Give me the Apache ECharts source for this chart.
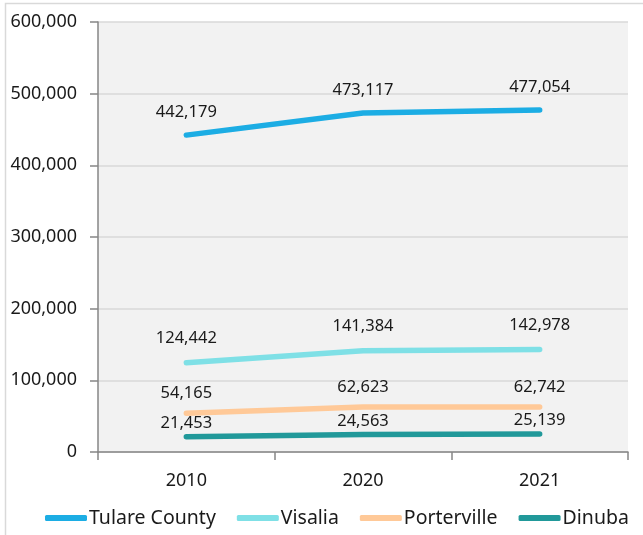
<!DOCTYPE html>
<html>
<head>
<meta charset="utf-8">
<script src="https://cdn.jsdelivr.net/npm/echarts@6/dist/echarts.min.js"></script>
<style>
html,body{margin:0;padding:0;background:#fff;}
#chart{width:643px;height:535px;}
</style>
</head>
<body>
<div id="chart"></div>
<script>
var categories = ['2010', '2020', '2021'];
var tulareCounty = [442179, 473117, 477054];
var visalia = [124442, 141384, 142978];
var porterville = [54165, 62623, 62742];
var dinuba = [21453, 24563, 25139];
var seriesNames = ['Tulare County', 'Visalia', 'Porterville', 'Dinuba'];
var yMin = 0, yMax = 600000, yStep = 100000;

var FONT = '"Noto Sans", sans-serif';
function fmt(v) { return v.toString().replace(/\B(?=(\d{3})+(?!\d))/g, ','); }

function mk(name, data, color, dist) {
  return {
    name: name,
    type: 'line',
    data: data,
    smooth: false,
    symbol: 'circle',
    symbolSize: 2,
    showSymbol: true,
    itemStyle: { color: color },
    lineStyle: { color: color, width: 5.5, cap: 'round', join: 'round' },
    label: {
      show: true,
      position: 'top',
      distance: dist,
      color: '#1a1a1a',
      fontFamily: FONT,
      fontSize: 16.5,
      formatter: function (p) { return fmt(p.value); }
    },
    emphasis: { disabled: true },
    animation: false
  };
}

var chart = echarts.init(document.getElementById('chart'), null, { renderer: 'canvas' });
chart.setOption({
  animation: false,
  backgroundColor: '#ffffff',
  graphic: [{
    type: 'rect',
    shape: { x: 5.5, y: 3.5, width: 700, height: 600 },
    style: { fill: null, stroke: '#d9d9d9', lineWidth: 1.5 },
    silent: true
  }],
  grid: {
    left: 98, right: 15, top: 22, bottom: 83,
    show: true, backgroundColor: '#f2f2f2', borderWidth: 0
  },
  legend: {
    data: seriesNames,
    left: 45,
    top: 508,
    padding: 0,
    itemWidth: 42,
    itemHeight: 6,
    itemGap: 21,
    icon: 'roundRect',
    textStyle: { fontFamily: FONT, fontSize: 19.5, color: '#1a1a1a', padding: [0, 0, 0, -3] }
  },
  xAxis: {
    type: 'category',
    data: categories,
    boundaryGap: true,
    axisLine: { show: true, lineStyle: { color: '#868686', width: 1.5 } },
    axisTick: { show: true, length: 8, lineStyle: { color: '#868686', width: 1.5 } },
    axisLabel: { margin: 20, fontFamily: FONT, fontSize: 18, color: '#1a1a1a' },
    splitLine: { show: false }
  },
  yAxis: {
    type: 'value',
    min: yMin, max: yMax, interval: yStep,
    axisLine: { show: true, lineStyle: { color: '#868686', width: 1.5 } },
    axisTick: { show: true, length: 8, lineStyle: { color: '#868686', width: 1.5 } },
    axisLabel: { margin: 21, fontFamily: FONT, fontSize: 18, color: '#1a1a1a', formatter: function (v) { return fmt(v); } },
    splitLine: { show: true, lineStyle: { color: '#d9d9d9', width: 1.5 } }
  },
  series: [
    mk(seriesNames[0], tulareCounty, '#1cade4', 13),
    mk(seriesNames[1], visalia, '#7fe0e6', 15),
    mk(seriesNames[2], porterville, '#ffc998', 10),
    mk(seriesNames[3], dinuba, '#21999a', 4)
  ]
});
</script>
</body>
</html>
